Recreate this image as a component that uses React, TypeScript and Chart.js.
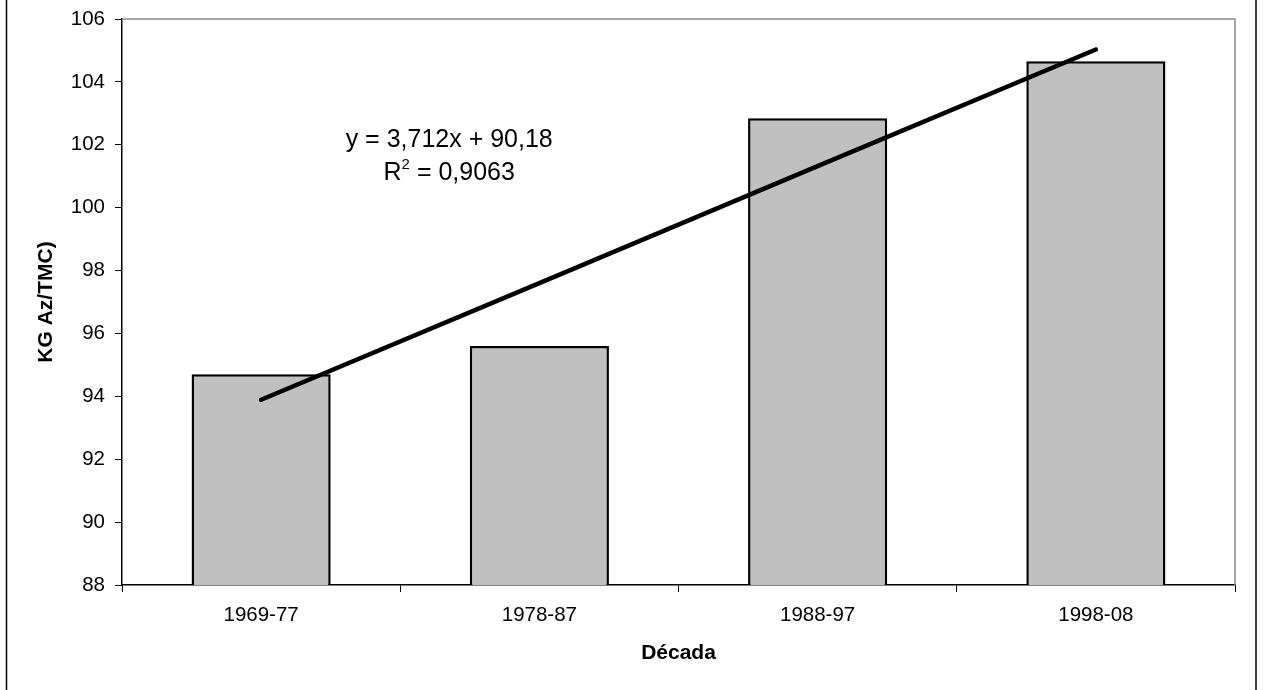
import React, { useEffect, useRef } from "react";
import { Chart, registerables } from "chart.js";

Chart.register(...registerables);

const categories = ["1969-77", "1978-87", "1988-97", "1998-08"];
const barValues = [94.7, 95.6, 102.84, 104.66];
const trendValues = [93.89, 97.6, 101.32, 105.03];
const yTicks = [88, 90, 92, 94, 96, 98, 100, 102, 104, 106];
const equationLine1 = "y = 3,712x + 90,18";
const equationLine2Parts = ["R", "2", " = 0,9063"];
const xTitle = "Década";
const yTitle = "KG Az/TMC)";

const FONT = "'Liberation Sans', Arial, sans-serif";

const framePlugin = {
  id: "frameAndEquation",
  beforeDraw(chart: any) {
    const ctx = chart.ctx;
    ctx.save();
    ctx.fillStyle = "#ffffff";
    ctx.fillRect(0, 0, chart.width, chart.height);
    ctx.restore();
  },
  afterDraw(chart: any) {
    const ctx = chart.ctx;
    const a = chart.chartArea;
    ctx.save();
    ctx.strokeStyle = "#8c8c8c";
    ctx.lineWidth = 1.5;
    ctx.beginPath();
    ctx.moveTo(a.left, a.top);
    ctx.lineTo(a.right, a.top);
    ctx.lineTo(a.right, a.bottom);
    ctx.stroke();
    ctx.strokeStyle = "#000";
    ctx.lineWidth = 1.5;
    ctx.beginPath();
    ctx.moveTo(6.5, 0);
    ctx.lineTo(6.5, chart.height);
    ctx.moveTo(1256, 0);
    ctx.lineTo(1256, chart.height);
    ctx.stroke();

    const cx = a.left + (a.right - a.left) * 0.294;
    const y1 = a.top + (a.bottom - a.top) * 0.2255;
    const y2 = y1 + 33;
    ctx.fillStyle = "#000";
    ctx.textBaseline = "alphabetic";
    ctx.font = `25px ${FONT}`;
    ctx.textAlign = "center";
    ctx.fillText(equationLine1, cx, y1);

    ctx.textAlign = "left";
    ctx.font = `25px ${FONT}`;
    const wR = ctx.measureText(equationLine2Parts[0]).width;
    const wRest = ctx.measureText(equationLine2Parts[2]).width;
    ctx.font = `15px ${FONT}`;
    const wSup = ctx.measureText(equationLine2Parts[1]).width;
    const total = wR + wSup + wRest;
    let x = cx - total / 2;
    ctx.font = `25px ${FONT}`;
    ctx.fillText(equationLine2Parts[0], x, y2);
    x += wR;
    ctx.font = `15px ${FONT}`;
    ctx.fillText(equationLine2Parts[1], x, y2 - 11);
    x += wSup;
    ctx.font = `25px ${FONT}`;
    ctx.fillText(equationLine2Parts[2], x, y2);
    ctx.restore();
  },
};

export default function App() {
  const canvasRef = useRef<HTMLCanvasElement | null>(null);

  useEffect(() => {
    document.body.style.margin = "0";
    const canvas = canvasRef.current;
    if (!canvas) return;
    const chart = new Chart(canvas, {
      type: "bar",
      data: {
        labels: categories,
        datasets: [
          {
            type: "line",
            data: trendValues,
            borderColor: "#000",
            borderWidth: 4.5,
            pointRadius: 0,
            borderCapStyle: "round",
            fill: false,
            order: 0,
          } as any,
          {
            type: "bar",
            data: barValues,
            backgroundColor: "#c0c0c0",
            borderColor: "#000",
            borderWidth: 2.5,
            borderSkipped: false,
            barPercentage: 0.5,
            categoryPercentage: 1.0,
            order: 1,
          },
        ],
      },
      plugins: [framePlugin],
      options: {
        responsive: false,
        animation: false,
        devicePixelRatio: 1,
        layout: { padding: { top: 19, right: 41, bottom: 0, left: 0 } },
        plugins: {
          legend: { display: false },
          tooltip: { enabled: false },
          title: { display: false },
        },
        scales: {
          x: {
            offset: true,
            afterFit: (s: any) => {
              s.height = 105;
              s.paddingLeft = 0;
              s.paddingRight = 0;
            },
            grid: {
              display: true,
              offset: true,
              drawOnChartArea: false,
              drawTicks: true,
              tickLength: 7,
              color: "#000",
            },
            border: { display: true, color: "#000", width: 1.5 },
            ticks: {
              color: "#000",
              padding: 11,
              maxRotation: 0,
              font: { family: FONT, size: 20.5 },
            },
            title: {
              display: true,
              text: xTitle,
              color: "#000",
              padding: { top: 0, bottom: 24 },
              font: { family: FONT, size: 21, weight: "bold" },
            },
          },
          y: {
            min: yTicks[0],
            max: yTicks[yTicks.length - 1],
            afterFit: (s: any) => {
              s.width = 122;
              s.paddingTop = 0;
              s.paddingBottom = 0;
            },
            afterBuildTicks: (s: any) => {
              s.ticks = yTicks.map((v) => ({ value: v }));
            },
            grid: {
              display: true,
              drawOnChartArea: false,
              drawTicks: true,
              tickLength: 7,
              color: "#000",
            },
            border: { display: true, color: "#000", width: 1.5 },
            ticks: {
              color: "#000",
              padding: 10,
              font: { family: FONT, size: 20.5 },
            },
            title: {
              display: true,
              text: yTitle,
              color: "#000",
              padding: { top: 34, bottom: 0 },
              font: { family: FONT, size: 21, weight: "bold" },
            },
          },
        },
      },
    } as any);
    return () => chart.destroy();
  }, []);

  return (
    <div style={{ width: 1276, height: 690 }}>
      <canvas ref={canvasRef} width={1276} height={690} style={{ display: "block" }} />
    </div>
  );
}
